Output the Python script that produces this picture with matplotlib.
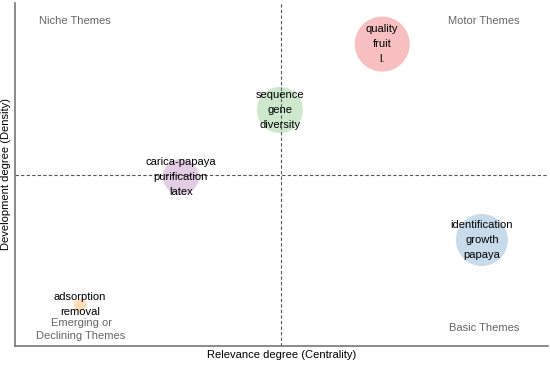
import matplotlib.pyplot as plt
import numpy as np

plt.rcParams['font.family'] = ['Liberation Sans', 'DejaVu Sans']

# =========================
# data
# =========================

labels = [
    'quality\nfruit\nl.',
    'sequence\ngene\ndiversity',
    'carica-papaya\npurification\nlatex',
    'identification\ngrowth\npapaya',
    'adsorption\nremoval',
]
centrality = [0.689, 0.497, 0.311, 0.876, 0.122]
density = [0.880, 0.688, 0.493, 0.309, 0.120]
frequency = [157, 110, 67, 140, 8]
colors = ['#E41A1C', '#4DAF4A', '#984EA3', '#377EB8', '#FF7F00']

centrality_mid = 0.499
density_mid = 0.497

# =========================
# plot
# =========================

fig = plt.figure(figsize=(5.5, 3.65), dpi=100)
ax = fig.add_axes([0.0273, 0.052, 0.969, 0.94])

ax.axvline(centrality_mid, color='#555555', linestyle=(0, (3, 2)), linewidth=0.8, zorder=1)
ax.axhline(density_mid, color='#555555', linestyle=(0, (3, 2)), linewidth=0.8, zorder=1)

ax.scatter(centrality, density, s=np.array(frequency) * 10, c=colors,
           alpha=0.28, edgecolors='none', zorder=2)

for x, y, t in zip(centrality, density, labels):
    ax.text(x, y, t, ha='center', va='center', fontsize=8,
            linespacing=1.62, color='black', zorder=3)

grey = '#666666'
ax.text(0.112, 0.948, 'Niche Themes', ha='center', va='center', fontsize=8, color=grey)
ax.text(0.880, 0.948, 'Motor Themes', ha='center', va='center', fontsize=8, color=grey)
ax.text(0.880, 0.052, 'Basic Themes', ha='center', va='center', fontsize=8, color=grey)
ax.text(0.124, 0.048, 'Emerging or\nDeclining Themes', ha='center', va='center',
        fontsize=8, color=grey, linespacing=1.38)

ax.set_xlim(0, 1)
ax.set_ylim(0, 1)
ax.set_xticks([])
ax.set_yticks([])
ax.spines['top'].set_visible(False)
ax.spines['right'].set_visible(False)
for s in ['left', 'bottom']:
    ax.spines[s].set_color('#777777')
    ax.spines[s].set_linewidth(1.2)

ax.set_xlabel('Relevance degree (Centrality)', fontsize=8, labelpad=3)
ax.set_ylabel('Development degree (Density)', fontsize=8, labelpad=3)

fig.savefig('out.png', dpi=100)
